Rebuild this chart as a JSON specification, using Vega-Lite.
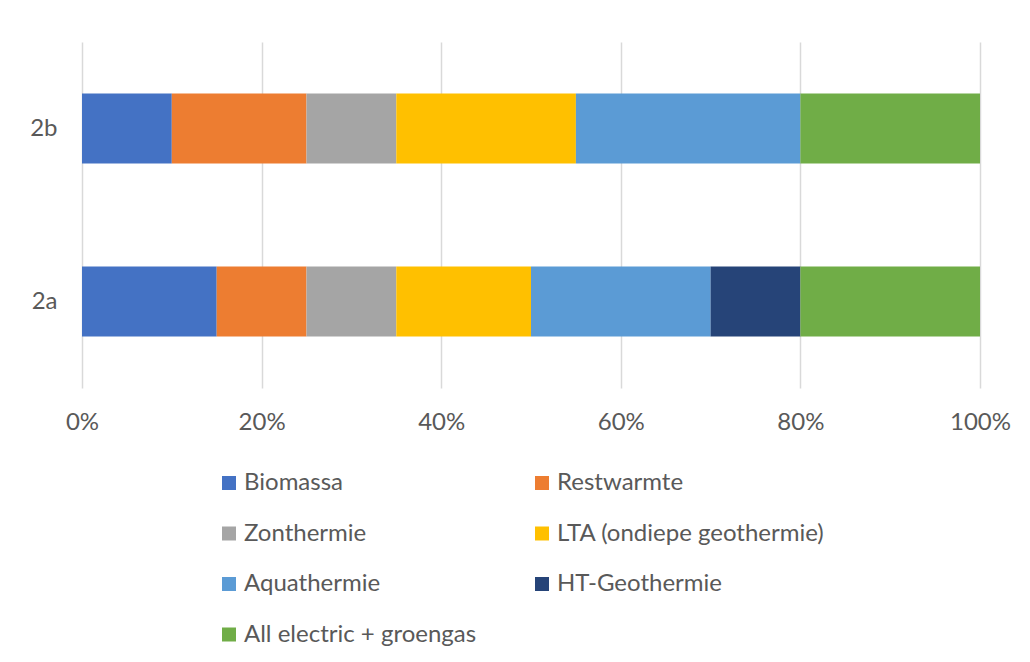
{
  "$schema": "https://vega.github.io/schema/vega-lite/v6.json",
  "width": 898,
  "height": 346,
  "padding": {"left": 29, "top": 42, "right": 40, "bottom": 10},
  "background": "white",
  "config": {
    "font": "Lato",
    "view": {"stroke": null},
    "axis": {"labelColor": "#595959", "labelFontSize": 24, "labelFont": "Lato"}
  },
  "data": {
    "values": [
      {"case": "2b", "source": "Biomassa", "o": 1, "v": 10},
      {"case": "2b", "source": "Restwarmte", "o": 2, "v": 15},
      {"case": "2b", "source": "Zonthermie", "o": 3, "v": 10},
      {"case": "2b", "source": "LTA (ondiepe geothermie)", "o": 4, "v": 20},
      {"case": "2b", "source": "Aquathermie", "o": 5, "v": 25},
      {"case": "2b", "source": "HT-Geothermie", "o": 6, "v": 0},
      {"case": "2b", "source": "All electric + groengas", "o": 7, "v": 20},
      {"case": "2a", "source": "Biomassa", "o": 1, "v": 15},
      {"case": "2a", "source": "Restwarmte", "o": 2, "v": 10},
      {"case": "2a", "source": "Zonthermie", "o": 3, "v": 10},
      {"case": "2a", "source": "LTA (ondiepe geothermie)", "o": 4, "v": 15},
      {"case": "2a", "source": "Aquathermie", "o": 5, "v": 20},
      {"case": "2a", "source": "HT-Geothermie", "o": 6, "v": 10},
      {"case": "2a", "source": "All electric + groengas", "o": 7, "v": 20}
    ]
  },
  "mark": {"type": "bar"},
  "encoding": {
    "y": {
      "field": "case",
      "type": "nominal",
      "sort": ["2b", "2a"],
      "scale": {"paddingInner": 0.595, "paddingOuter": 0.2975},
      "axis": {"title": null, "domain": false, "ticks": false, "labelPadding": 25, "grid": false}
    },
    "x": {
      "field": "v",
      "type": "quantitative",
      "stack": "normalize",
      "scale": {"domain": [0, 1], "nice": false},
      "axis": {
        "title": null,
        "format": ".0%",
        "values": [0, 0.2, 0.4, 0.6, 0.8, 1],
        "domain": false,
        "ticks": false,
        "grid": true,
        "gridColor": "#d9d9d9",
        "gridWidth": 1.5,
        "labelPadding": 22,
        "labelFlush": false
      }
    },
    "order": {"field": "o", "type": "quantitative"},
    "color": {
      "field": "source",
      "type": "nominal",
      "sort": ["Biomassa", "Restwarmte", "Zonthermie", "LTA (ondiepe geothermie)", "Aquathermie", "HT-Geothermie", "All electric + groengas"],
      "scale": {
        "domain": ["Biomassa", "Restwarmte", "Zonthermie", "LTA (ondiepe geothermie)", "Aquathermie", "HT-Geothermie", "All electric + groengas"],
        "range": ["#4472C4", "#ED7D31", "#A5A5A5", "#FFC000", "#5B9BD5", "#264478", "#70AD47"]
      },
      "legend": {
        "title": null,
        "orient": "none",
        "legendX": 135,
        "legendY": 429,
        "direction": "horizontal",
        "columns": 2,
        "columnPadding": 53,
        "rowPadding": 26.5,
        "symbolType": "square",
        "symbolSize": 196,
        "symbolStrokeWidth": 0,
        "labelFontSize": 24,
        "labelColor": "#595959",
        "labelFont": "Lato",
        "labelOffset": 3,
        "labelLimit": 400
      }
    }
  }
}
